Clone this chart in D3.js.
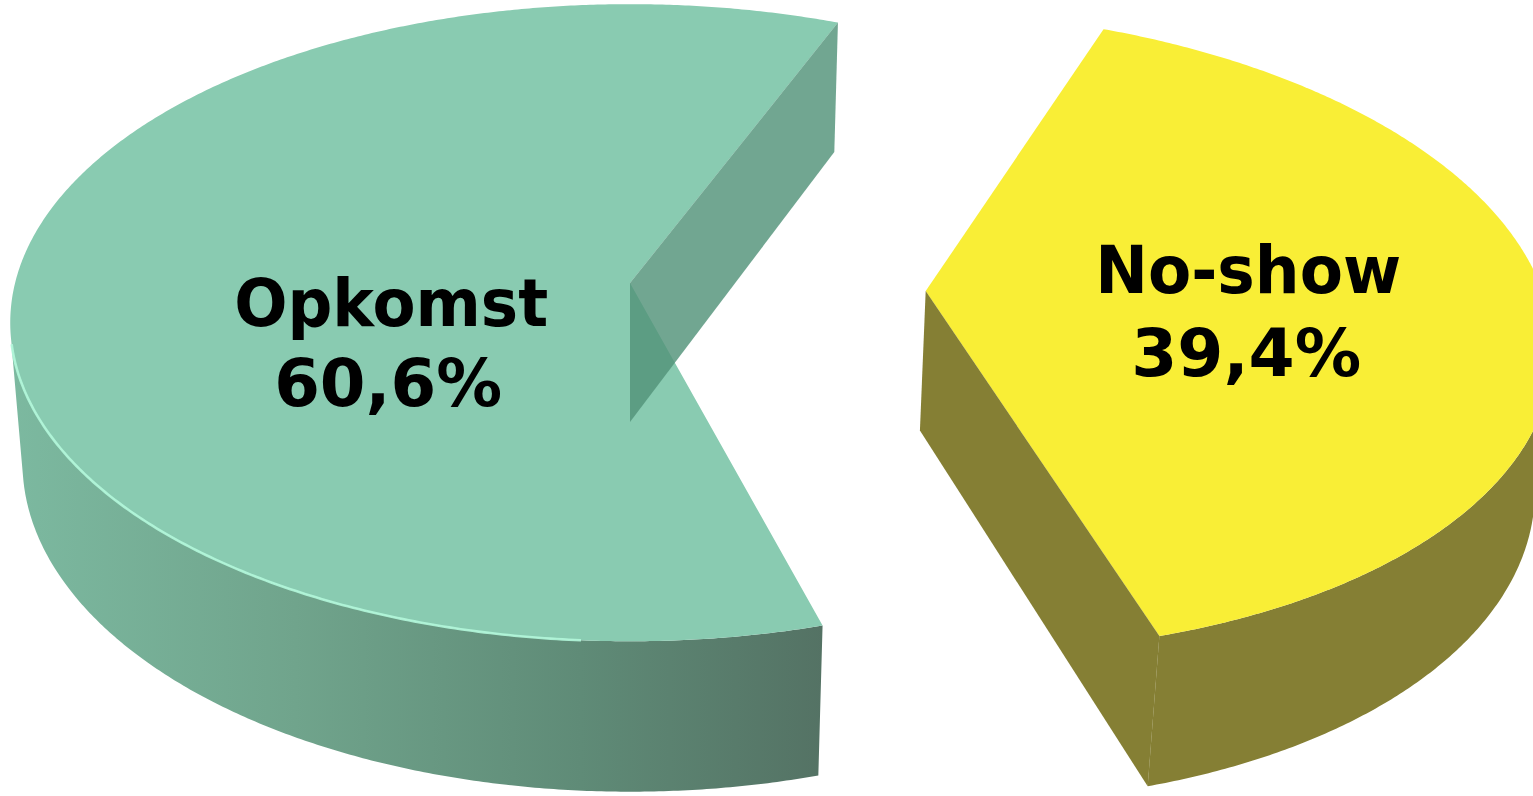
<!DOCTYPE html>
<html>
<head>
<meta charset="utf-8">
<script src="https://cdn.jsdelivr.net/npm/d3@7"></script>
<style>
  html, body { margin: 0; padding: 0; background: #ffffff; }
  svg { display: block; }
</style>
</head>
<body>
<svg id="chart" width="1533" height="796"></svg>
<script>
// ---- data ----
const categories = ["Opkomst", "No-show"];
const values = [60.6, 39.4];
const valueLabels = ["60,6%", "39,4%"];
const topColors = ["#89cbb1", "#f9ee36"];
const faceColors = ["rgb(82,147,122)", "rgb(107,99,8)"];
const explodeAmount = [0, 0.48];

// ---- 3D view (perspective) ----
const view = { cx: 630, cy: 283, s: 4243, k: 6.9, sinT: 0.51 };
view.cosT = Math.sqrt(1 - view.sinT * view.sinT);
const depth = 0.268;
const rad = d => d * Math.PI / 180;

const svg = d3.select("#chart");
const defs = svg.append("defs");
const grad = defs.append("linearGradient").attr("id", "greenWall")
  .attr("gradientUnits", "userSpaceOnUse")
  .attr("x1", 10).attr("y1", 0).attr("x2", 825).attr("y2", 0);
[[0, "#7cb9a0"], [0.35, "#70a48c"], [0.7, "#5f8b77"], [1, "#547264"]]
  .forEach(([o, c]) => grad.append("stop").attr("offset", o).attr("stop-color", c));
const wallFills = ["url(#greenWall)", "#857f34"];

function proj(X, Y, Z) {
  const dist = view.k - Z * view.cosT - Y * view.sinT;
  return [view.cx + view.s * X / dist, view.cy + view.s * (Z * view.sinT - Y * view.cosT) / dist];
}

const pie = d3.pie().sort(null)
  .startAngle(rad(164)).endAngle(rad(164) + 2 * Math.PI);
const arcs = pie(values).map((d, i) => {
  const mid = (d.startAngle + d.endAngle) / 2;
  const e = explodeAmount[i];
  return Object.assign(d, { i, mid, ex: e * Math.sin(mid), ez: -e * Math.cos(mid) });
});

const rimPt = (d, a, r, Y) => proj(d.ex + r * Math.sin(a), Y, d.ez - r * Math.cos(a));
const line = d3.line();

function samples(a0, a1, step) {
  const n = Math.max(2, Math.ceil(Math.abs(a1 - a0) / step));
  return d3.range(n + 1).map(j => a0 + (a1 - a0) * j / n);
}

const camZ = view.k * view.cosT;
function wallFacing(d, a) {
  const px = d.ex + Math.sin(a), pz = d.ez - Math.cos(a);
  return Math.sin(a) * (0 - px) + (-Math.cos(a)) * (camZ - pz);
}
function faceFacing(d, a, isEnd) {
  const sgn = isEnd ? 1 : -1;
  return sgn * (Math.cos(a) * (0 - d.ex) + Math.sin(a) * (camZ - d.ez));
}

const g = svg.append("g");

arcs.forEach(d => {
  const sg = g.append("g").attr("class", "slice-" + d.i);
  // outer wall (visible part)
  const angs = samples(d.startAngle, d.endAngle, rad(0.4)).filter(a => wallFacing(d, a) > 0);
  if (angs.length > 1) {
    const topPts = angs.map(a => rimPt(d, a, 1, 0));
    const botPts = angs.map(a => rimPt(d, a, 1, -depth)).reverse();
    sg.append("path").attr("d", line(topPts.concat(botPts)) + "Z")
      .attr("fill", wallFills[d.i]);
  }
  // top face
  const topArc = samples(d.startAngle, d.endAngle, rad(0.4)).map(a => rimPt(d, a, 1, 0));
  const c0 = proj(d.ex, 0, d.ez);
  sg.append("path").attr("d", line([c0].concat(topArc)) + "Z")
    .attr("fill", topColors[d.i]);
  // rim highlight on the front-left of the big slice
  if (d.i === 0) {
    const hl = samples(rad(184), rad(259), rad(0.5)).map(a => rimPt(d, a, 1, 0));
    sg.append("path").attr("d", line(hl)).attr("fill", "none")
      .attr("stroke", "#b2f7da").attr("stroke-width", 2.6).attr("stroke-opacity", 0.9);
  }
  // cut faces
  [[d.startAngle, false], [d.endAngle, true]].forEach(([a, isEnd]) => {
    if (faceFacing(d, a, isEnd) <= 0) return;
    const pts = [proj(d.ex, 0, d.ez), rimPt(d, a, 1, 0), rimPt(d, a, 1, -depth), proj(d.ex, -depth, d.ez)];
    sg.append("path").attr("d", line(pts) + "Z")
      .attr("fill", faceColors[d.i]).attr("fill-opacity", 0.822);
  });
});

// ---- labels ----
const labelLayout = [
  { r: 0.39, nameDy: 50, valDy: 130, nameLen: 314, valLen: 228, valDx: -3 },
  { r: 0.52, nameDy: -7, valDy: 76, nameLen: 306, valLen: 230, valDx: -2 }
];
arcs.forEach(d => {
  const L = labelLayout[d.i];
  const p = rimPt(d, d.mid, L.r, 0);
  const t = g.append("g").attr("font-family", "'DejaVu Sans', Verdana, sans-serif")
    .attr("font-weight", "bold").attr("font-size", 66).attr("fill", "#000")
    .attr("text-anchor", "middle");
  t.append("text").attr("x", p[0]).attr("y", p[1] + L.nameDy)
    .attr("textLength", L.nameLen).attr("lengthAdjust", "spacingAndGlyphs")
    .text(categories[d.i]);
  t.append("text").attr("x", p[0] + L.valDx).attr("y", p[1] + L.valDy)
    .attr("textLength", L.valLen).attr("lengthAdjust", "spacingAndGlyphs")
    .text(valueLabels[d.i]);
});
</script>
</body>
</html>
